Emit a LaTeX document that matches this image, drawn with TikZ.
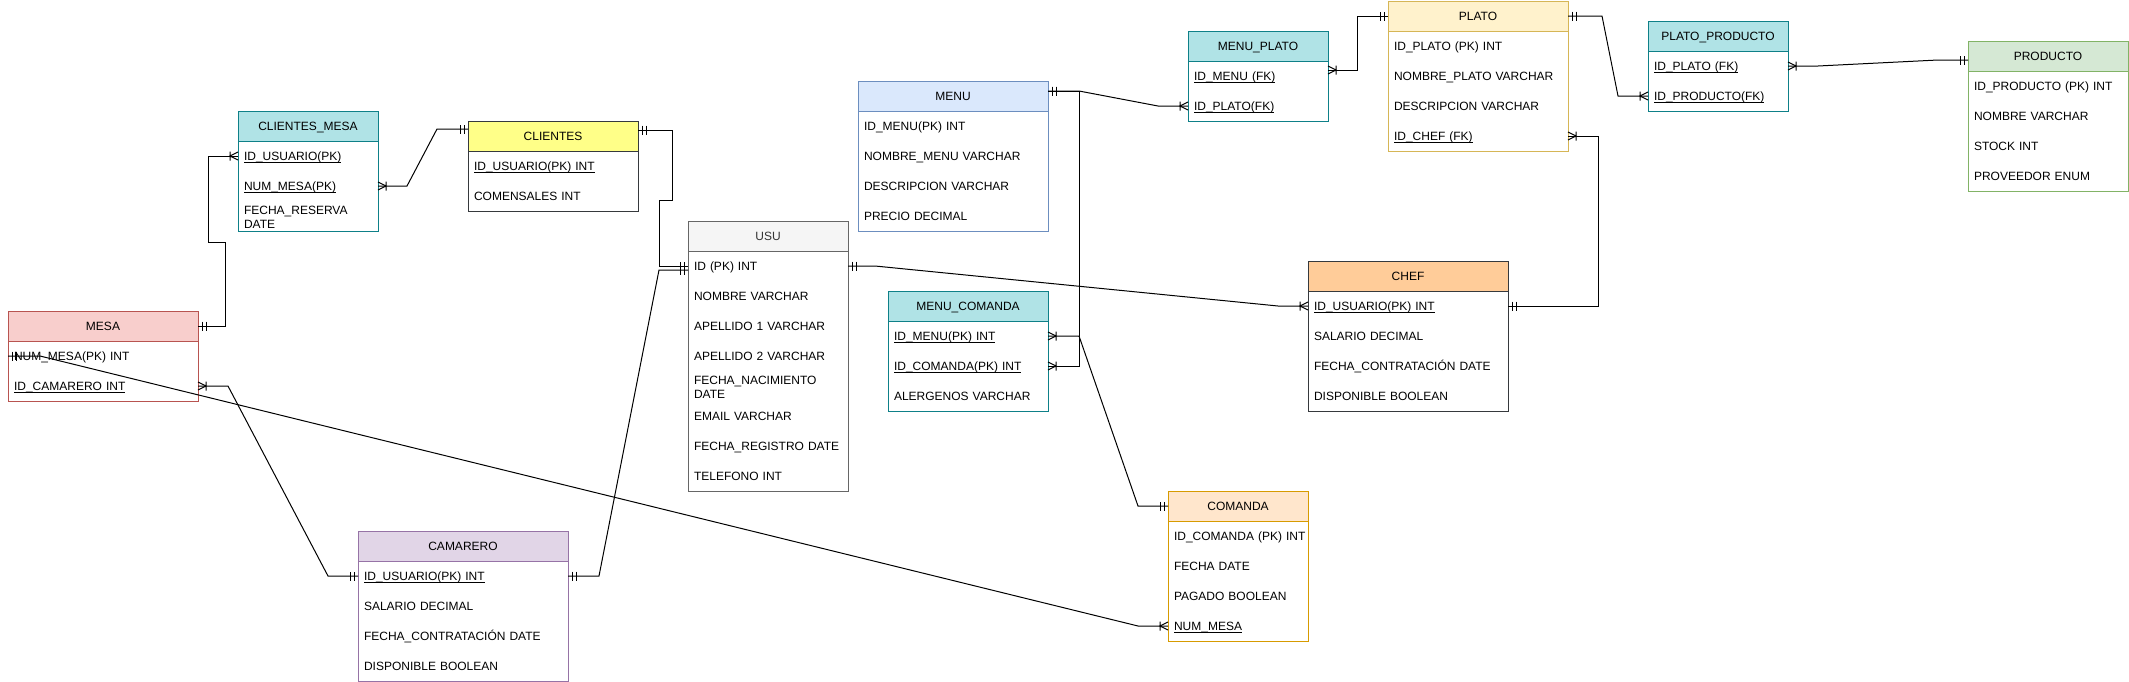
\documentclass[tikz,border=0pt]{standalone}
\usepackage{fontspec}
\setmainfont{Liberation Sans}
\usetikzlibrary{positioning}
\definecolor{tealD}{HTML}{0E8088}
\definecolor{tealL}{HTML}{B0E3E6}
\definecolor{grayD}{HTML}{36393D}
\definecolor{yelL}{HTML}{FFFF88}
\definecolor{redD}{HTML}{B85450}
\definecolor{redL}{HTML}{F8CECC}
\definecolor{usuD}{HTML}{666666}
\definecolor{usuL}{HTML}{F5F5F5}
\definecolor{usuT}{HTML}{333333}
\definecolor{purD}{HTML}{9673A6}
\definecolor{purL}{HTML}{E1D5E7}
\definecolor{bluD}{HTML}{6C8EBF}
\definecolor{bluL}{HTML}{DAE8FC}
\definecolor{ylwD}{HTML}{D6B656}
\definecolor{ylwL}{HTML}{FFF2CC}
\definecolor{grnD}{HTML}{82B366}
\definecolor{grnL}{HTML}{D5E8D4}
\definecolor{orgL}{HTML}{FFCC99}
\definecolor{ornD}{HTML}{D79B00}
\definecolor{ornL}{HTML}{FFE6CC}
\newcommand{\keyul}[1]{\underline{\smash{#1}}}
\pgfdeclarearrow{
  name=ERone,
  setup code={%
    \pgfarrowssettipend{0pt}%
    \pgfarrowssetlineend{0pt}%
    \pgfarrowssetbackend{-8pt}%
    \pgfarrowsupperhullpoint{-8pt}{4.5pt}%
    \pgfarrowsupperhullpoint{0pt}{4.5pt}%
  },
  drawing code={%
    \pgfpathmoveto{\pgfqpoint{-4pt}{-4.5pt}}%
    \pgfpathlineto{\pgfqpoint{-4pt}{4.5pt}}%
    \pgfpathmoveto{\pgfqpoint{-8pt}{-4.5pt}}%
    \pgfpathlineto{\pgfqpoint{-8pt}{4.5pt}}%
    \pgfusepathqstroke
  }
}
\pgfdeclarearrow{
  name=ERmany,
  setup code={%
    \pgfarrowssettipend{0pt}%
    \pgfarrowssetlineend{0pt}%
    \pgfarrowssetbackend{-8pt}%
    \pgfarrowsupperhullpoint{-8pt}{4.5pt}%
    \pgfarrowsupperhullpoint{0pt}{4.5pt}%
  },
  drawing code={%
    \pgfpathmoveto{\pgfqpoint{0pt}{4pt}}%
    \pgfpathlineto{\pgfqpoint{-8pt}{0pt}}%
    \pgfpathlineto{\pgfqpoint{0pt}{-4pt}}%
    \pgfpathmoveto{\pgfqpoint{-8pt}{-4.5pt}}%
    \pgfpathlineto{\pgfqpoint{-8pt}{4.5pt}}%
    \pgfusepathqstroke
  }
}
\begin{document}
\begin{tikzpicture}[x=1pt,y=-1pt,line width=1pt,
  font=\fontsize{12}{14}\selectfont,
  hdr/.style 2 args={draw=#1,fill=#2,minimum height=30pt,inner sep=0pt,outer sep=0pt,anchor=north west,text height=8.6pt,text depth=0pt},
  fld/.style={text width=#1,align=left,execute at begin node={\rightskip=0pt plus 1fil minus 40pt\relax},inner xsep=6pt,inner ysep=0pt,outer sep=0pt,minimum height=30pt,text height=8.6pt,text depth=0pt},
  fld2/.style={fld=#1,text depth=12pt},
  rel/.style={draw=black}]
\path[use as bounding box,fill=white] (0,0) rectangle (2129,681);

\node[hdr={redD}{redL},minimum width=190pt] (mesa) at (8,311) {MESA};
\node[fld=178pt,below=0pt of mesa] (mesa-1) {NUM\_MESA(PK) INT};
\node[fld=178pt,below=0pt of mesa-1] (mesa-2) {\keyul{ID\_CAMARERO INT}};
\draw[redD] (mesa.south west) rectangle (mesa-2.south east);

\node[hdr={tealD}{tealL},minimum width=140pt] (cm) at (238,111) {CLIENTES\_MESA};
\node[fld=128pt,below=0pt of cm] (cm-1) {\keyul{ID\_USUARIO(PK)}};
\node[fld=128pt,below=0pt of cm-1] (cm-2) {\keyul{NUM\_MESA(PK)}};
\node[fld2=128pt,below=0pt of cm-2] (cm-3) {FECHA\_RESERVA\\DATE};
\draw[tealD] (cm.south west) rectangle (cm-3.south east);

\node[hdr={grayD}{yelL},minimum width=170pt] (cl) at (468,121) {CLIENTES};
\node[fld=158pt,below=0pt of cl] (cl-1) {\keyul{ID\_USUARIO(PK) INT}};
\node[fld=158pt,below=0pt of cl-1] (cl-2) {COMENSALES INT};
\draw[grayD] (cl.south west) rectangle (cl-2.south east);

\node[hdr={usuD}{usuL},text=usuT,minimum width=160pt] (usu) at (688,221) {USU};
\node[fld=148pt,below=0pt of usu] (usu-1) {ID (PK) INT};
\node[fld=148pt,below=0pt of usu-1] (usu-2) {NOMBRE VARCHAR};
\node[fld=148pt,below=0pt of usu-2] (usu-3) {APELLIDO 1 VARCHAR};
\node[fld=148pt,below=0pt of usu-3] (usu-4) {APELLIDO 2 VARCHAR};
\node[fld2=148pt,below=0pt of usu-4] (usu-5) {FECHA\_NACIMIENTO\\DATE};
\node[fld=148pt,below=0pt of usu-5] (usu-6) {EMAIL VARCHAR};
\node[fld=148pt,below=0pt of usu-6] (usu-7) {FECHA\_REGISTRO DATE};
\node[fld=148pt,below=0pt of usu-7] (usu-8) {TELEFONO INT};
\draw[usuD] (usu.south west) rectangle (usu-8.south east);

\node[hdr={purD}{purL},minimum width=210pt] (cam) at (358,531) {CAMARERO};
\node[fld=198pt,below=0pt of cam] (cam-1) {\keyul{ID\_USUARIO(PK) INT}};
\node[fld=198pt,below=0pt of cam-1] (cam-2) {SALARIO DECIMAL};
\node[fld=198pt,below=0pt of cam-2] (cam-3) {FECHA\_CONTRATACIÓN DATE};
\node[fld=198pt,below=0pt of cam-3] (cam-4) {DISPONIBLE BOOLEAN};
\draw[purD] (cam.south west) rectangle (cam-4.south east);

\node[hdr={bluD}{bluL},minimum width=190pt] (menu) at (858,81) {MENU};
\node[fld=178pt,below=0pt of menu] (menu-1) {ID\_MENU(PK) INT};
\node[fld=178pt,below=0pt of menu-1] (menu-2) {NOMBRE\_MENU VARCHAR};
\node[fld=178pt,below=0pt of menu-2] (menu-3) {DESCRIPCION VARCHAR};
\node[fld=178pt,below=0pt of menu-3] (menu-4) {PRECIO DECIMAL};
\draw[bluD] (menu.south west) rectangle (menu-4.south east);

\node[hdr={tealD}{tealL},minimum width=160pt] (mc) at (888,291) {MENU\_COMANDA};
\node[fld=148pt,below=0pt of mc] (mc-1) {\keyul{ID\_MENU(PK) INT}};
\node[fld=148pt,below=0pt of mc-1] (mc-2) {\keyul{ID\_COMANDA(PK) INT}};
\node[fld=148pt,below=0pt of mc-2] (mc-3) {ALERGENOS VARCHAR};
\draw[tealD] (mc.south west) rectangle (mc-3.south east);

\node[hdr={tealD}{tealL},minimum width=140pt] (mp) at (1188,31) {MENU\_PLATO};
\node[fld=128pt,below=0pt of mp] (mp-1) {\keyul{ID\_MENU (FK)}};
\node[fld=128pt,below=0pt of mp-1] (mp-2) {\keyul{ID\_PLATO(FK)}};
\draw[tealD] (mp.south west) rectangle (mp-2.south east);

\node[hdr={ylwD}{ylwL},minimum width=180pt] (plato) at (1388,1) {PLATO};
\node[fld=168pt,below=0pt of plato] (plato-1) {ID\_PLATO (PK) INT};
\node[fld=168pt,below=0pt of plato-1] (plato-2) {NOMBRE\_PLATO VARCHAR};
\node[fld=168pt,below=0pt of plato-2] (plato-3) {DESCRIPCION VARCHAR};
\node[fld=168pt,below=0pt of plato-3] (plato-4) {\keyul{ID\_CHEF (FK)}};
\draw[ylwD] (plato.south west) rectangle (plato-4.south east);

\node[hdr={tealD}{tealL},minimum width=140pt] (pp) at (1648,21) {PLATO\_PRODUCTO};
\node[fld=128pt,below=0pt of pp] (pp-1) {\keyul{ID\_PLATO (FK)}};
\node[fld=128pt,below=0pt of pp-1] (pp-2) {\keyul{ID\_PRODUCTO(FK)}};
\draw[tealD] (pp.south west) rectangle (pp-2.south east);

\node[hdr={grnD}{grnL},minimum width=160pt] (prod) at (1968,41) {PRODUCTO};
\node[fld=148pt,below=0pt of prod] (prod-1) {ID\_PRODUCTO (PK) INT};
\node[fld=148pt,below=0pt of prod-1] (prod-2) {NOMBRE VARCHAR};
\node[fld=148pt,below=0pt of prod-2] (prod-3) {STOCK INT};
\node[fld=148pt,below=0pt of prod-3] (prod-4) {PROVEEDOR ENUM};
\draw[grnD] (prod.south west) rectangle (prod-4.south east);

\node[hdr={grayD}{orgL},minimum width=200pt] (chef) at (1308,261) {CHEF};
\node[fld=188pt,below=0pt of chef] (chef-1) {\keyul{ID\_USUARIO(PK) INT}};
\node[fld=188pt,below=0pt of chef-1] (chef-2) {SALARIO DECIMAL};
\node[fld=188pt,below=0pt of chef-2] (chef-3) {FECHA\_CONTRATACIÓN DATE};
\node[fld=188pt,below=0pt of chef-3] (chef-4) {DISPONIBLE BOOLEAN};
\draw[grayD] (chef.south west) rectangle (chef-4.south east);

\node[hdr={ornD}{ornL},minimum width=140pt] (com) at (1168,491) {COMANDA};
\node[fld=128pt,below=0pt of com] (com-1) {ID\_COMANDA (PK) INT};
\node[fld=128pt,below=0pt of com-1] (com-2) {FECHA DATE};
\node[fld=128pt,below=0pt of com-2] (com-3) {PAGADO BOOLEAN};
\node[fld=128pt,below=0pt of com-3] (com-4) {\keyul{NUM\_MESA}};
\draw[ornD] (com.south west) rectangle (com-4.south east);

\draw[rel,ERone-ERmany] (mesa.east) -- ++(27,0) -- ++(0,-84) -- ++(-17,0) |- (cm-1.west);
\draw[rel,ERmany-ERone] (cm-2.east) -- ++(29,0) -- ([xshift=-31pt,yshift=7pt]cl.west) -- ([yshift=7pt]cl.west);
\draw[rel,ERone-ERone] ([yshift=6pt]cl.east) -- ++(34,0) -- ++(0,70) -- ++(-13,0) |- (usu-1.west);
\draw[rel,ERone-ERone] (cam-1.east) -- ++(31,0) -- ([xshift=-29pt,yshift=-4pt]usu-1.west) -- ([yshift=-4pt]usu-1.west);
\draw[rel,ERmany-ERone] (mesa-2.east) -- ++(30,0) -- ([xshift=-30pt]cam-1.west) -- (cam-1.west);
\draw[rel,ERone-ERmany] (mesa-1.west) -- ++(32,0) -- ([xshift=-30pt]com-4.west) -- (com-4.west);
\draw[rel,ERone-ERmany] (usu-1.east) -- ++(27,0) -- ([xshift=-30pt]chef-1.west) -- (chef-1.west);
\draw[rel,ERone-ERmany] ([yshift=5pt]menu.east) -- ++(31,0) -- ([xshift=-30pt]mp-2.west) -- (mp-2.west);
\draw[rel,ERone-ERmany] ([yshift=5pt]menu.east) -- ++(31,0) |- (mc-2.east);
\draw[rel,ERmany-ERone] (mc-1.east) -- ++(31,0) -- ([xshift=-30pt]com.west) -- (com.west);
\draw[rel,ERmany-ERone] ([yshift=6pt]mp-1.east) -- ++(29,0) |- (plato.west);
\draw[rel,ERone-ERmany] (plato.east) -- ++(34,0) -- ([xshift=-30pt]pp-2.west) -- (pp-2.west);
\draw[rel,ERmany-ERone] (plato-4.east) -- ++(30,0) |- (chef-1.east);
\draw[rel,ERmany-ERone] (pp-1.east) -- ++(30,0) -- ([xshift=-30pt,yshift=-4pt]prod.west) -- ([yshift=-4pt]prod.west);
\end{tikzpicture}
\end{document}
